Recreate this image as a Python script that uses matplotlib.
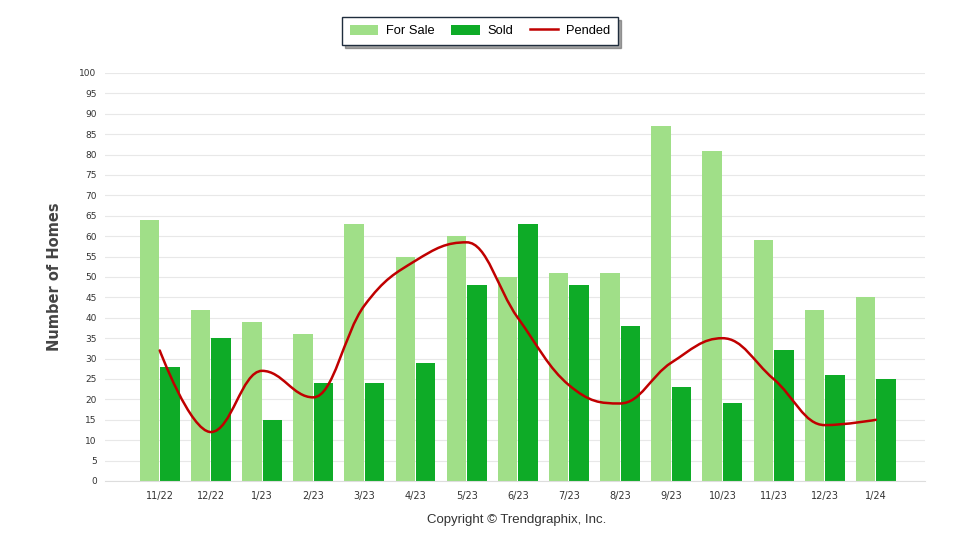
import numpy as np
import matplotlib
matplotlib.use("Agg")
import matplotlib.pyplot as plt
from matplotlib.path import Path
from matplotlib.patches import PathPatch
from matplotlib.lines import Line2D
from matplotlib.patches import Patch

months = ["11/22", "12/22", "1/23", "2/23", "3/23", "4/23", "5/23", "6/23",
          "7/23", "8/23", "9/23", "10/23", "11/23", "12/23", "1/24"]
for_sale = [64, 42, 39, 36, 63, 55, 60, 50, 51, 51, 87, 81, 59, 42, 45]
sold = [28, 35, 15, 24, 24, 29, 48, 63, 48, 38, 23, 19, 32, 26, 25]
pended = [32, 12, 27, 20.5, 43, 54, 58.5, 40, 23.5, 19, 29, 35, 25, 13.7, 15]
y_ticks = list(range(0, 101, 5))

C_SALE = "#a0df88"
C_SOLD = "#0eab27"
C_PEND = "#c00000"


def spline_path(xs, ys, smoothing=1.5):
    n = len(xs)
    denom = smoothing + 1
    lc = [None] * n
    rc = [None] * n
    for i in range(1, n - 1):
        px, py = xs[i], ys[i]
        lx0, ly0 = xs[i - 1], ys[i - 1]
        nx, ny = xs[i + 1], ys[i + 1]
        lcx = (smoothing * px + lx0) / denom
        lcy = (smoothing * py + ly0) / denom
        rcx = (smoothing * px + nx) / denom
        rcy = (smoothing * py + ny) / denom
        if rcx != lcx:
            corr = (rcy - lcy) * (rcx - px) / (rcx - lcx) + py - rcy
            lcy += corr
            rcy += corr
            if lcy > ly0 and lcy > py:
                lcy = max(ly0, py); rcy = 2 * py - lcy
            elif lcy < ly0 and lcy < py:
                lcy = min(ly0, py); rcy = 2 * py - lcy
            if rcy > ny and rcy > py:
                rcy = max(ny, py); lcy = 2 * py - rcy
            elif rcy < ny and rcy < py:
                rcy = min(ny, py); lcy = 2 * py - rcy
        lc[i] = (lcx, lcy)
        rc[i] = (rcx, rcy)
    verts = [(xs[0], ys[0])]
    codes = [Path.MOVETO]
    for i in range(1, n):
        c1 = rc[i - 1] if rc[i - 1] is not None else (xs[i - 1], ys[i - 1])
        c2 = lc[i] if lc[i] is not None else (xs[i], ys[i])
        verts += [c1, c2, (xs[i], ys[i])]
        codes += [Path.CURVE4] * 3
    return Path(verts, codes)


fig = plt.figure(figsize=(9.6, 5.5), dpi=100)
ax = fig.add_axes([105 / 960, 1 - 481 / 550, (925 - 105) / 960, (481 - 73) / 550])

x = np.arange(len(months))
w = 0.38
ax.bar(x - w / 2 - 0.01, for_sale, width=w, color=C_SALE, zorder=2)
ax.bar(x + w / 2 + 0.01, sold, width=w, color=C_SOLD, zorder=2)

p = spline_path(list(x.astype(float)), pended)
ax.add_patch(PathPatch(p, fill=False, edgecolor=C_PEND, lw=1.8, zorder=3,
                       capstyle="round", joinstyle="round"))

ax.set_xlim(-1.07, 14.96)
ax.set_ylim(0, 100)
ax.set_yticks(y_ticks)
ax.set_yticklabels([str(v) for v in y_ticks], fontsize=6.5, color="#333333",
                   family="DejaVu Sans")
ax.set_xticks(x)
ax.set_xticklabels(months, fontsize=7, color="#333333", family="DejaVu Sans")
ax.tick_params(axis="y", length=0, pad=6)
ax.tick_params(axis="x", length=0, pad=7)
ax.grid(axis="y", color="#e8e8e8", lw=0.8, zorder=0)
ax.set_axisbelow(True)
for s in ["top", "right", "left"]:
    ax.spines[s].set_visible(False)
ax.spines["bottom"].set_color("#dddddd")
ax.spines["bottom"].set_linewidth(0.8)

ax.set_ylabel("Number of Homes", fontsize=10.5, color="#444444", fontweight="bold",
              family="DejaVu Sans")
ax.yaxis.set_label_coords((62 - 105) / 820, (481 - 277) / 408)

fig.text(517 / 960, 1 - 520 / 550, "Copyright \u00a9 Trendgraphix, Inc.",
         ha="center", va="center", fontsize=9.5, color="#333333",
         family="Liberation Sans")

handles = [Patch(facecolor=C_SALE, edgecolor="none", label="For Sale"),
           Patch(facecolor=C_SOLD, edgecolor="none", label="Sold"),
           Line2D([0], [0], color=C_PEND, lw=1.8, label="Pended")]
leg = fig.legend(handles=handles, loc="center", bbox_to_anchor=(480 / 960, 1 - 31 / 550),
                 ncol=3, frameon=True, fancybox=False, shadow=True,
                 prop={"family": "Liberation Sans", "size": 9.3},
                 handlelength=2.2, handleheight=0.8, columnspacing=1.3,
                 handletextpad=0.6, borderpad=0.6)
leg.get_frame().set_edgecolor("#1f2d3d")
leg.get_frame().set_linewidth(1.0)

fig.savefig("out.png", dpi=100)
